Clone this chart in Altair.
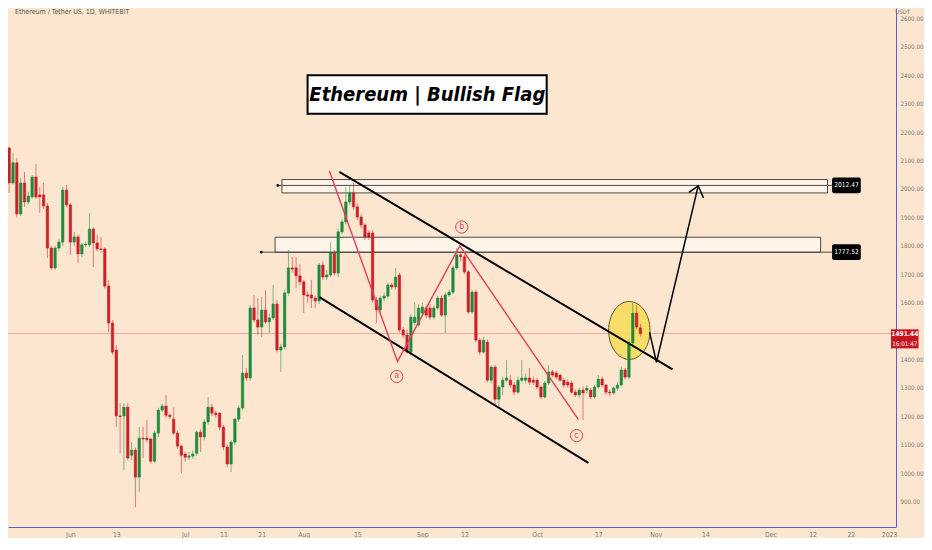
import altair as alt
import pandas as pd

# ---------------- data ----------------
OPEN = [2144, 2021, 2092, 1912, 2021, 1954, 1972, 2042, 1979, 1979,
        1940, 1792, 1722, 1792, 1813, 1996, 1944, 1813, 1831, 1771,
        1803, 1803, 1859, 1810, 1789, 1789, 1658, 1528, 1433, 1201,
        1201, 1232, 1063, 1081, 986, 1123, 1123, 1120, 1042, 1141,
        1222, 1236, 1204, 1190, 1141, 1095, 1067, 1056, 1060, 1070,
        1144, 1127, 1180, 1232, 1211, 1211, 1162, 1092, 1032, 1109,
        1190, 1229, 1352, 1335, 1581, 1539, 1514, 1574, 1532, 1546,
        1595, 1433, 1444, 1634, 1722, 1722, 1694, 1673, 1627, 1627,
        1616, 1606, 1732, 1690, 1697, 1775, 1704, 1849, 1884, 1954,
        1986, 1937, 1901, 1873, 1845, 1845, 1609, 1574, 1616, 1623,
        1662, 1655, 1697, 1504, 1486, 1426, 1530, 1521, 1563, 1581,
        1581, 1549, 1581, 1616, 1556, 1627, 1637, 1722, 1768, 1761,
        1708, 1567, 1637, 1468, 1426, 1461, 1327, 1373, 1260, 1303,
        1327, 1327, 1310, 1285, 1327, 1327, 1335, 1327, 1327, 1303,
        1268, 1317, 1356, 1352, 1345, 1327, 1320, 1317, 1285, 1275,
        1292, 1292, 1292, 1268, 1303, 1331, 1310, 1285, 1282, 1299,
        1310, 1363, 1338, 1458, 1563, 1511]
HIGH = [2148, 2127, 2109, 2039, 2060, 1990, 2049, 2088, 2007, 2021,
        1950, 1800, 1800, 1825, 2007, 2014, 1950, 1849, 1840, 1810,
        1815, 1915, 1865, 1838, 1831, 1795, 1680, 1539, 1451, 1246,
        1245, 1246, 1109, 1090, 1162, 1162, 1187, 1125, 1150, 1230,
        1245, 1275, 1210, 1232, 1150, 1100, 1075, 1075, 1080, 1150,
        1155, 1190, 1268, 1245, 1220, 1215, 1170, 1100, 1115, 1195,
        1240, 1415, 1370, 1592, 1627, 1616, 1620, 1644, 1560, 1662,
        1610, 1455, 1645, 1785, 1761, 1761, 1735, 1680, 1640, 1680,
        1625, 1740, 1745, 1715, 1813, 1785, 1860, 1895, 2007, 2014,
        2021, 1950, 1910, 1880, 1855, 1855, 1620, 1625, 1635, 1670,
        1670, 1722, 1705, 1515, 1504, 1560, 1602, 1595, 1600, 1590,
        1595, 1590, 1625, 1625, 1635, 1645, 1730, 1792, 1780, 1770,
        1715, 1645, 1645, 1475, 1480, 1470, 1380, 1380, 1310, 1340,
        1398, 1345, 1320, 1340, 1398, 1350, 1370, 1340, 1335, 1310,
        1325, 1380, 1363, 1360, 1350, 1335, 1330, 1325, 1295, 1300,
        1305, 1310, 1300, 1310, 1345, 1340, 1315, 1295, 1305, 1320,
        1375, 1370, 1470, 1599, 1590, 1525]
LOW = [1986, 2015, 1901, 1905, 1937, 1945, 1965, 1965, 1915, 1930,
       1757, 1715, 1715, 1780, 1800, 1935, 1768, 1800, 1739, 1760,
       1795, 1795, 1725, 1780, 1775, 1650, 1497, 1415, 1162, 1070,
       1011, 1045, 1046, 880, 933, 1053, 1109, 1035, 1035, 1127,
       1215, 1195, 1190, 1135, 1085, 1000, 1040, 1045, 1050, 1060,
       1074, 1115, 1170, 1200, 1195, 1150, 1080, 1020, 1004, 1100,
       1180, 1220, 1325, 1325, 1530, 1486, 1479, 1525, 1493, 1540,
       1425, 1356, 1435, 1625, 1705, 1651, 1660, 1563, 1600, 1581,
       1581, 1595, 1680, 1680, 1690, 1695, 1690, 1840, 1875, 1945,
       1925, 1890, 1860, 1820, 1820, 1600, 1528, 1560, 1605, 1615,
       1645, 1645, 1495, 1475, 1420, 1415, 1520, 1515, 1555, 1545,
       1540, 1540, 1575, 1550, 1493, 1620, 1630, 1715, 1745, 1700,
       1560, 1560, 1460, 1415, 1420, 1320, 1315, 1240, 1230, 1275,
       1320, 1300, 1275, 1278, 1320, 1315, 1310, 1310, 1295, 1260,
       1262, 1310, 1338, 1330, 1320, 1300, 1300, 1278, 1268, 1265,
       1187, 1280, 1260, 1262, 1298, 1302, 1275, 1270, 1275, 1290,
       1305, 1330, 1330, 1450, 1505, 1480]
CLOSE = [2021, 2092, 1912, 2021, 1954, 1975, 2042, 1972, 1972, 1940,
         1792, 1722, 1792, 1813, 1996, 1944, 1813, 1831, 1771, 1803,
         1806, 1859, 1810, 1789, 1787, 1658, 1528, 1426, 1201, 1199,
         1232, 1053, 1081, 986, 1123, 1120, 1118, 1042, 1141, 1222,
         1236, 1204, 1199, 1141, 1095, 1063, 1056, 1060, 1067, 1144,
         1127, 1180, 1232, 1211, 1206, 1162, 1092, 1032, 1109, 1190,
         1229, 1352, 1335, 1581, 1539, 1514, 1574, 1532, 1546, 1595,
         1433, 1444, 1634, 1722, 1718, 1694, 1673, 1627, 1623, 1616,
         1606, 1732, 1690, 1697, 1775, 1704, 1849, 1884, 1954, 1986,
         1937, 1901, 1873, 1831, 1831, 1609, 1574, 1616, 1623, 1662,
         1655, 1690, 1504, 1486, 1426, 1549, 1549, 1581, 1584, 1556,
         1549, 1581, 1616, 1556, 1627, 1637, 1722, 1768, 1761, 1708,
         1567, 1637, 1468, 1426, 1468, 1327, 1373, 1260, 1303, 1327,
         1335, 1310, 1285, 1327, 1335, 1335, 1320, 1320, 1303, 1268,
         1317, 1356, 1345, 1338, 1327, 1310, 1310, 1285, 1275, 1292,
         1282, 1299, 1268, 1303, 1331, 1310, 1285, 1282, 1299, 1310,
         1363, 1338, 1458, 1563, 1514, 1491.44]

# x axis: days counted from 16 May 2022 (first candle)
TICK_DAYS = [16, 28, 46, 56, 66, 77, 91, 108, 119, 138, 154, 169, 182, 199, 210, 220, 230]
TICK_LABELS = ["Jun", "13", "Jul", "11", "21", "Aug", "15", "Sep", "12", "Oct",
               "17", "Nov", "14", "Dec", "12", "22", "2023"]
# 1500.00 sits under the last-price tag, so it is not listed
PRICE_TICKS = [900, 1000, 1100, 1200, 1300, 1400, 1600, 1700, 1800,
               1900, 2000, 2100, 2200, 2300, 2400, 2500, 2600]

# drawings (in day / price units)
ZONE_START = [71.3, 69.5]
ZONE_END = [213.9, 212.1]
ZONE_TOP = [2033, 1830]
ZONE_BOTTOM = [1986, 1777]
LEVELS = [2012.47, 1777.52]
LEVEL_TEXT = ["2012.47", "1777.52"]
RAY_START = [70.2, 65.9]
LABEL_DAY0, LABEL_DAY1, LABEL_HALF = 215.1, 222.6, 28

CHANNEL_NAME = ["upper", "upper", "lower", "lower"]
CHANNEL_DAY = [86.3, 173.4, 81.1, 151.4]
CHANNEL_PRICE = [2060, 1365, 1619, 1036]

WAVE_DAY = [83.7, 101.5, 117.8, 148.8]
WAVE_PRICE = [2063, 1393, 1800, 1188]
WAVE_LABEL = ["a", "b", "c"]
WAVE_LABEL_DAY = [101.3, 118.3, 148.3]
WAVE_LABEL_PRICE = [1340, 1866, 1132]

ARROW_PART = ["shaft", "shaft", "shaft", "head", "head", "head"]
ARROW_DAY = [167.4, 169.2, 180.1, 177.7, 180.1, 181.5]
ARROW_PRICE = [1495, 1390, 2011, 1988, 2011, 1968]

CIRCLE_DAY, CIRCLE_PRICE = 162.1, 1502

TITLE = "Ethereum | Bullish Flag"
TITLE_BOX = dict(x0=78.0, x1=140.5, y0=2265, y1=2400)
TITLE_POS = dict(day=109.3, price=2330)
SYMBOL_TEXT = "Ethereum / Tether US, 1D, WHITEBIT"
LAST_PRICE = CLOSE[-1]
COUNTDOWN = "16:01:47"

# ---------------- styles ----------------
BG = "#fde6cf"
GREEN = "#1d8a3c"
RED = "#cc1f26"
BLUE = "#5b5fd6"
PINK = "#e2405b"
FONT = "Liberation Sans Narrow, DejaVu Sans Condensed, sans-serif"

X_END = 230.5
XS = alt.Scale(domain=[1.0, X_END], nice=False, zero=False)
YS = alt.Scale(domain=[810.4, 2636.7], nice=False, zero=False)

label_expr = "[" + ",".join(f"'{t}'" for t in TICK_LABELS) + "][indexof([" + \
    ",".join(str(d) for d in TICK_DAYS) + "], datum.value)]"

XAXIS = alt.Axis(values=TICK_DAYS, labelExpr=label_expr, title="", orient="bottom",
                 domainColor=BLUE, domainWidth=1, ticks=False, grid=False,
                 labelColor="#7a7a7a", labelFont=FONT, labelFontSize=6.8,
                 labelPadding=4, labelOverlap=False, labelFlush=False)
YAXIS = alt.Axis(values=PRICE_TICKS, format=".2f", title="", orient="right",
                 domainColor=BLUE, domainWidth=1, ticks=False, grid=False,
                 labelColor="#7a7a7a", labelFont=FONT, labelFontSize=6.2,
                 labelPadding=4, labelOverlap=False, labelFlush=False)


def X(f):
    return alt.X(f"{f}:Q", scale=XS, axis=XAXIS)


def Y(f):
    return alt.Y(f"{f}:Q", scale=YS, axis=YAXIS)


# ---------------- tables ----------------
candles = pd.DataFrame({"day": list(range(len(OPEN))), "open": OPEN, "high": HIGH,
                        "low": LOW, "close": CLOSE})
candles["dir"] = ["up" if c >= o else "down" for o, c in zip(OPEN, CLOSE)]

zones = pd.DataFrame({"x0": ZONE_START, "x1": ZONE_END, "y0": ZONE_BOTTOM, "y1": ZONE_TOP})
rays = pd.DataFrame({"x0": RAY_START, "x1": [LABEL_DAY0] * 2, "price": LEVELS,
                     "txt": LEVEL_TEXT,
                     "b0": [v - LABEL_HALF for v in LEVELS],
                     "b1": [v + LABEL_HALF for v in LEVELS],
                     "lx0": [LABEL_DAY0] * 2, "lx1": [LABEL_DAY1] * 2,
                     "lxm": [(LABEL_DAY0 + LABEL_DAY1) / 2] * 2})
channel = pd.DataFrame({"name": CHANNEL_NAME, "day": CHANNEL_DAY, "price": CHANNEL_PRICE,
                        "seq": [0, 1, 0, 1]})
wave = pd.DataFrame({"day": WAVE_DAY, "price": WAVE_PRICE, "seq": list(range(4))})
wave_lbl = pd.DataFrame({"day": WAVE_LABEL_DAY, "price": WAVE_LABEL_PRICE, "txt": WAVE_LABEL})
arrow = pd.DataFrame({"part": ARROW_PART, "day": ARROW_DAY, "price": ARROW_PRICE,
                      "seq": list(range(6))})
circle = pd.DataFrame({"day": [CIRCLE_DAY], "price": [CIRCLE_PRICE]})
title_box = pd.DataFrame([TITLE_BOX])
title_txt = pd.DataFrame([{**TITLE_POS, "txt": TITLE}])
last = pd.DataFrame({"price": [LAST_PRICE]})
last_box = pd.DataFrame({"x0": [X_END], "x1": [X_END + 7.2], "y0": [1439], "y1": [1506],
                         "xm": [X_END + 3.6], "p1": [1488], "p2": [1455],
                         "t1": [f"{LAST_PRICE:.2f}"], "t2": [COUNTDOWN]})
corner = pd.DataFrame({"day": [1.5], "price": [2622], "txt": [SYMBOL_TEXT]})
unit = pd.DataFrame({"day": [X_END + 1.1], "price": [2624], "txt": ["USDT"]})

# ---------------- layers ----------------
color = alt.Color("dir:N", scale=alt.Scale(domain=["up", "down"], range=[GREEN, RED]), legend=None)
stroke = alt.Stroke("dir:N", scale=alt.Scale(domain=["up", "down"], range=[GREEN, RED]), legend=None)

last_line = alt.Chart(last).mark_rule(color="#f2a39b", strokeWidth=1).encode(y=Y("price"))

zone_rect = alt.Chart(zones).mark_rect(fill="#fff8ef", fillOpacity=0.75, stroke="#4a4a4a",
                                       strokeWidth=1).encode(x=X("x0"), x2="x1", y=Y("y0"), y2="y1")
ray_line = alt.Chart(rays).mark_rule(color="#4a4a4a", strokeWidth=1).encode(
    x=X("x0"), x2="x1", y=Y("price"))
ray_dot = alt.Chart(rays).mark_point(filled=True, color="#111111", size=7, opacity=1).encode(
    x=X("x0"), y=Y("price"))
ray_box = alt.Chart(rays).mark_rect(fill="#000000", cornerRadius=2).encode(
    x=X("lx0"), x2="lx1", y=Y("b0"), y2="b1")
ray_txt = alt.Chart(rays).mark_text(color="white", font=FONT, fontSize=6.6, align="center",
                                    baseline="middle").encode(x=X("lxm"), y=Y("price"), text="txt:N")

ellipse = alt.Chart(circle).mark_point(
    shape="M 0 -1.4 A 1 1.4 0 1 1 0 1.4 A 1 1.4 0 1 1 0 -1.4 Z",
    size=1714, filled=True, fill="#f4dc5c", fillOpacity=0.9, stroke="#5f5520",
    strokeWidth=1, opacity=1).encode(x=X("day"), y=Y("price"))

wicks = alt.Chart(candles).mark_rule(strokeWidth=1, opacity=0.55).encode(
    x=X("day"), y=Y("low"), y2="high", color=color)
bodies = alt.Chart(candles).mark_bar(size=2.4, strokeWidth=0.6).encode(
    x=X("day"), y=Y("open"), y2="close", color=color, stroke=stroke)

channel_lines = alt.Chart(channel).mark_line(color="black", strokeWidth=2).encode(
    x=X("day"), y=Y("price"), detail="name:N", order="seq:Q")

wave_line = alt.Chart(wave).mark_line(color=PINK, strokeWidth=1.4).encode(
    x=X("day"), y=Y("price"), order="seq:Q")
wave_circ = alt.Chart(wave_lbl).mark_point(shape="circle", size=150, filled=False, color=PINK,
                                           strokeWidth=1, opacity=1).encode(x=X("day"), y=Y("price"))
wave_txt = alt.Chart(wave_lbl).mark_text(color=PINK, font="DejaVu Sans", fontSize=8,
                                         align="center", baseline="middle").encode(
    x=X("day"), y=Y("price"), text="txt:N")

arrow_line = alt.Chart(arrow).mark_line(color="black", strokeWidth=1.5).encode(
    x=X("day"), y=Y("price"), detail="part:N", order="seq:Q")

tbox = alt.Chart(title_box).mark_rect(fill="white", stroke="black", strokeWidth=2).encode(
    x=X("x0"), x2="x1", y=Y("y0"), y2="y1")
ttxt = alt.Chart(title_txt).mark_text(font=FONT, fontSize=20, fontWeight="bold",
                                      fontStyle="italic", color="black", align="center",
                                      baseline="middle").encode(x=X("day"), y=Y("price"), text="txt:N")

lbox = alt.Chart(last_box).mark_rect(fill="#c8141c").encode(x=X("x0"), x2="x1", y=Y("y0"), y2="y1")
ltxt1 = alt.Chart(last_box).mark_text(color="white", font=FONT, fontSize=6.6, fontWeight="bold",
                                      align="center", baseline="middle").encode(
    x=X("xm"), y=Y("p1"), text="t1:N")
ltxt2 = alt.Chart(last_box).mark_text(color="white", font=FONT, fontSize=6.2,
                                      align="center", baseline="middle").encode(
    x=X("xm"), y=Y("p2"), text="t2:N")

corner_txt = alt.Chart(corner).mark_text(color="#555555", font=FONT, fontSize=7, align="left",
                                         baseline="middle").encode(x=X("day"), y=Y("price"), text="txt:N")
unit_txt = alt.Chart(unit).mark_text(color="#7a7a7a", font=FONT, fontSize=6, align="left",
                                     baseline="middle").encode(x=X("day"), y=Y("price"), text="txt:N")

chart = alt.layer(
    last_line, zone_rect, ray_line, ray_dot, ellipse, wicks, bodies, channel_lines,
    wave_line, wave_circ, wave_txt, arrow_line, tbox, ttxt, ray_box, ray_txt,
    lbox, ltxt1, ltxt2, corner_txt, unit_txt
).properties(
    width=888, height=519,
    autosize=alt.AutoSizeParams(type="none"),
    padding={"left": 0, "top": 0, "right": 28, "bottom": 11},
    background=BG,
).configure_view(strokeWidth=0)

chart.save("out.html", embed_options={"renderer": "svg", "actions": False})
